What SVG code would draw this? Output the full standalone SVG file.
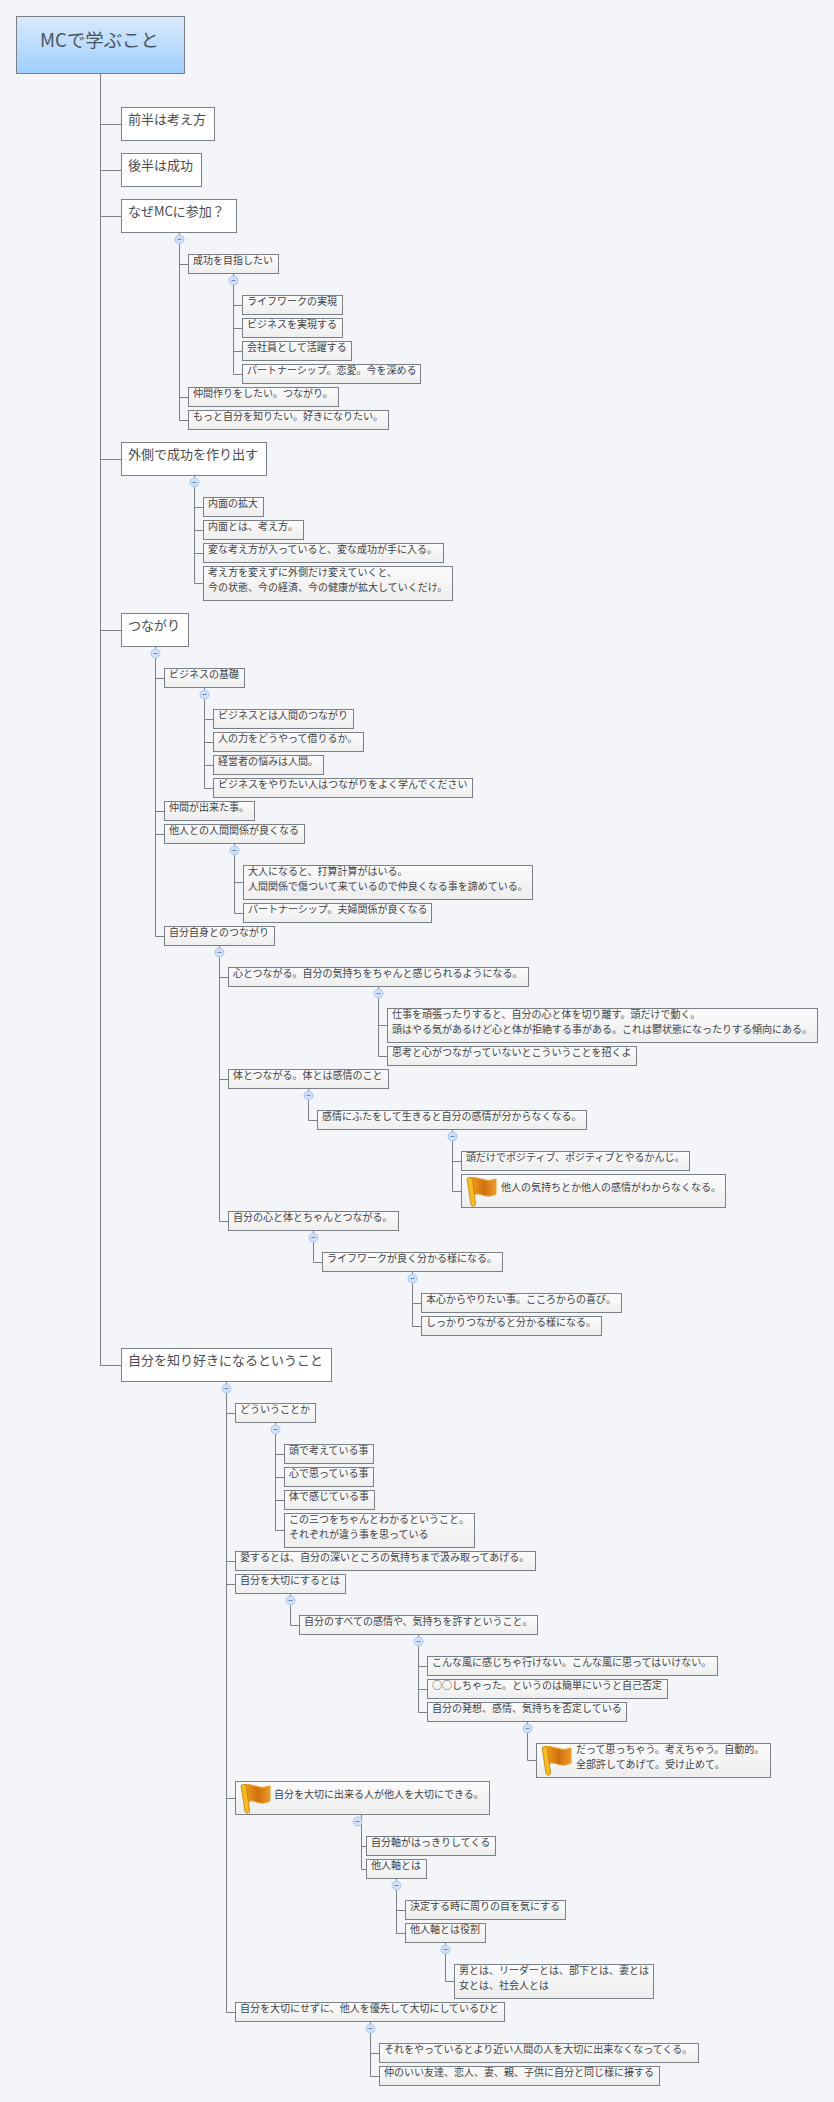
<svg xmlns="http://www.w3.org/2000/svg" width="834" height="2102" viewBox="0 0 834 2102">
<style>
text{font-family:"Noto Sans CJK JP","Noto Sans CJK SC",sans-serif;fill:#3e4248}
.t{font-size:10px}
.l1{font-size:13px;fill:#484c52}
.r{font-size:18.5px;fill:#4a5560}
.box{fill:url(#g2);stroke:#7b8087;stroke-width:1}
.b1{fill:#fff;stroke:#7b8087;stroke-width:1}
.c{fill:none;stroke:#7b8087;stroke-width:1}
.k{fill:#cfe0f8;stroke:#a9c5ec;stroke-width:1}
.m{stroke:#6f8db8;stroke-width:1}
</style>
<defs>
<linearGradient id="g1" x1="0" y1="0" x2="0" y2="1"><stop offset="0" stop-color="#d9eafb"/><stop offset="1" stop-color="#9fcefd"/></linearGradient>
<linearGradient id="g2" x1="0" y1="0" x2="0" y2="1"><stop offset="0" stop-color="#fbfbfb"/><stop offset="1" stop-color="#eeeeee"/></linearGradient>
<linearGradient id="g3" x1="0" y1="0" x2="1" y2="0"><stop offset="0" stop-color="#f7a51f"/><stop offset="0.55" stop-color="#cf6f0e"/><stop offset="1" stop-color="#ee9a2a"/></linearGradient>
<g id="flag">
<path d="M7,19 Q11,17 15,18.5 Q23,22 30,18 L30,3 Q23,6 15,3 Q9,0.5 3,2 Z" fill="url(#g3)" stroke="#e8a020" stroke-width="1"/>
<path d="M1,2.5 L5,28.5 Q6,31 8.5,30 Q10,29 9.5,27 L6,1.5 Q3,1 1,2.5 Z" fill="#f5bd22" stroke="#c07f10" stroke-width="0.8"/>
</g>
</defs>
<rect width="834" height="2102" fill="#f3f5f9"/>
<g id="connectors">
<path class="c" d="M100.5,73.5V1365.5H121.5M100.5,124.5H121.5M100.5,170.5H121.5M100.5,216.5H121.5M100.5,459.5H121.5M100.5,630.5H121.5"/>
<path class="c" d="M179.5,232.5V420.5H188.5M179.5,264.5H188.5M179.5,397.5H188.5"/>
<path class="c" d="M233.5,273.5V374.5H242.5M233.5,305.5H242.5M233.5,328.5H242.5M233.5,351.5H242.5"/>
<path class="c" d="M194.5,475.5V583.5H203.5M194.5,507.5H203.5M194.5,530.5H203.5M194.5,553.5H203.5"/>
<path class="c" d="M155.5,646.5V936.5H164.5M155.5,678.5H164.5M155.5,811.5H164.5M155.5,834.5H164.5"/>
<path class="c" d="M204.5,687.5V788.5H213.5M204.5,719.5H213.5M204.5,742.5H213.5M204.5,765.5H213.5"/>
<path class="c" d="M234.5,843.5V913.5H243.5M234.5,882.5H243.5"/>
<path class="c" d="M219.5,945.5V1221.5H228.5M219.5,977.5H228.5M219.5,1079.5H228.5"/>
<path class="c" d="M378.5,986.5V1056.5H387.5M378.5,1025.5H387.5"/>
<path class="c" d="M308.5,1088.5V1120.5H317.5"/>
<path class="c" d="M452.5,1129.5V1191.5H461.5M452.5,1161.5H461.5"/>
<path class="c" d="M313.5,1230.5V1262.5H322.5"/>
<path class="c" d="M412.5,1271.5V1326.5H421.5M412.5,1303.5H421.5"/>
<path class="c" d="M226.5,1381.5V2012.5H235.5M226.5,1413.5H235.5M226.5,1561.5H235.5M226.5,1584.5H235.5M226.5,1798.5H235.5"/>
<path class="c" d="M275.5,1422.5V1530.5H284.5M275.5,1454.5H284.5M275.5,1477.5H284.5M275.5,1500.5H284.5"/>
<path class="c" d="M290.5,1593.5V1625.5H299.5"/>
<path class="c" d="M418.5,1634.5V1712.5H427.5M418.5,1666.5H427.5M418.5,1689.5H427.5"/>
<path class="c" d="M527.5,1721.5V1760.5H536.5"/>
<path class="c" d="M361.5,1814.5V1869.5H366.5M361.5,1846.5H366.5"/>
<path class="c" d="M396.5,1878.5V1933.5H405.5M396.5,1910.5H405.5"/>
<path class="c" d="M445.5,1942.5V1981.5H454.5"/>
<path class="c" d="M370.5,2021.5V2076.5H379.5M370.5,2053.5H379.5"/>
</g>
<g id="toggles">
<circle class="k" cx="179.5" cy="239.5" r="4.5"/><path class="m" d="M177.5,239.5h4"/>
<circle class="k" cx="233.5" cy="280.5" r="4.5"/><path class="m" d="M231.5,280.5h4"/>
<circle class="k" cx="194.5" cy="482.5" r="4.5"/><path class="m" d="M192.5,482.5h4"/>
<circle class="k" cx="155.5" cy="653.5" r="4.5"/><path class="m" d="M153.5,653.5h4"/>
<circle class="k" cx="204.5" cy="694.5" r="4.5"/><path class="m" d="M202.5,694.5h4"/>
<circle class="k" cx="234.5" cy="850.5" r="4.5"/><path class="m" d="M232.5,850.5h4"/>
<circle class="k" cx="219.5" cy="952.5" r="4.5"/><path class="m" d="M217.5,952.5h4"/>
<circle class="k" cx="378.5" cy="993.5" r="4.5"/><path class="m" d="M376.5,993.5h4"/>
<circle class="k" cx="308.5" cy="1095.5" r="4.5"/><path class="m" d="M306.5,1095.5h4"/>
<circle class="k" cx="452.5" cy="1136.5" r="4.5"/><path class="m" d="M450.5,1136.5h4"/>
<circle class="k" cx="313.5" cy="1237.5" r="4.5"/><path class="m" d="M311.5,1237.5h4"/>
<circle class="k" cx="412.5" cy="1278.5" r="4.5"/><path class="m" d="M410.5,1278.5h4"/>
<circle class="k" cx="226.5" cy="1388.5" r="4.5"/><path class="m" d="M224.5,1388.5h4"/>
<circle class="k" cx="275.5" cy="1429.5" r="4.5"/><path class="m" d="M273.5,1429.5h4"/>
<circle class="k" cx="290.5" cy="1600.5" r="4.5"/><path class="m" d="M288.5,1600.5h4"/>
<circle class="k" cx="418.5" cy="1641.5" r="4.5"/><path class="m" d="M416.5,1641.5h4"/>
<circle class="k" cx="527.5" cy="1728.5" r="4.5"/><path class="m" d="M525.5,1728.5h4"/>
<circle class="k" cx="357.5" cy="1821.5" r="4.5"/><path class="m" d="M355.5,1821.5h4"/>
<circle class="k" cx="396.5" cy="1885.5" r="4.5"/><path class="m" d="M394.5,1885.5h4"/>
<circle class="k" cx="445.5" cy="1949.5" r="4.5"/><path class="m" d="M443.5,1949.5h4"/>
<circle class="k" cx="370.5" cy="2028.5" r="4.5"/><path class="m" d="M368.5,2028.5h4"/>
</g>
<g id="root"><rect x="16.5" y="16.5" width="168" height="57" fill="url(#g1)" stroke="#7b8087"/><text class="r" x="40" y="47" textLength="119">MCで学ぶこと</text></g>
<g id="n1"><rect class="b1" x="121.5" y="107.5" width="93" height="33"/><text class="l1" x="128" y="124">前半は考え方</text></g>
<g id="n2"><rect class="b1" x="121.5" y="153.5" width="80" height="33"/><text class="l1" x="128" y="170">後半は成功</text></g>
<g id="n3"><rect class="b1" x="121.5" y="199.5" width="115" height="33"/><text class="l1" x="128" y="216">なぜMCに参加？</text></g>
<g id="n4"><rect class="box" x="188.5" y="254.5" width="90" height="19"/><text class="t" x="193" y="264">成功を目指したい</text></g>
<g id="n5"><rect class="box" x="242.5" y="295.5" width="100" height="19"/><text class="t" x="247" y="305">ライフワークの実現</text></g>
<g id="n6"><rect class="box" x="242.5" y="318.5" width="100" height="19"/><text class="t" x="247" y="328">ビジネスを実現する</text></g>
<g id="n7"><rect class="box" x="242.5" y="341.5" width="109" height="19"/><text class="t" x="247" y="351">会社員として活躍する</text></g>
<g id="n8"><rect class="box" x="242.5" y="364.5" width="178" height="19"/><text class="t" x="247" y="374">パートナーシップ。恋愛。今を深める</text></g>
<g id="n9"><rect class="box" x="188.5" y="387.5" width="150" height="19"/><text class="t" x="193" y="397">仲間作りをしたい。つながり。</text></g>
<g id="n10"><rect class="box" x="188.5" y="410.5" width="200" height="19"/><text class="t" x="193" y="420">もっと自分を知りたい。好きになりたい。</text></g>
<g id="n11"><rect class="b1" x="121.5" y="442.5" width="145" height="33"/><text class="l1" x="128" y="459">外側で成功を作り出す</text></g>
<g id="n12"><rect class="box" x="203.5" y="497.5" width="60" height="19"/><text class="t" x="208" y="507">内面の拡大</text></g>
<g id="n13"><rect class="box" x="203.5" y="520.5" width="100" height="19"/><text class="t" x="208" y="530">内面とは、考え方。</text></g>
<g id="n14"><rect class="box" x="203.5" y="543.5" width="240" height="19"/><text class="t" x="208" y="553">変な考え方が入っていると、変な成功が手に入る。</text></g>
<g id="n15"><rect class="box" x="203.5" y="566.5" width="249" height="34"/><text class="t" x="208" y="576">考え方を変えずに外側だけ変えていくと、</text><text class="t" x="208" y="591">今の状態、今の経済、今の健康が拡大していくだけ。</text></g>
<g id="n16"><rect class="b1" x="121.5" y="613.5" width="67" height="33"/><text class="l1" x="128" y="630">つながり</text></g>
<g id="n17"><rect class="box" x="164.5" y="668.5" width="80" height="19"/><text class="t" x="169" y="678">ビジネスの基礎</text></g>
<g id="n18"><rect class="box" x="213.5" y="709.5" width="140" height="19"/><text class="t" x="218" y="719">ビジネスとは人間のつながり</text></g>
<g id="n19"><rect class="box" x="213.5" y="732.5" width="150" height="19"/><text class="t" x="218" y="742">人の力をどうやって借りるか。</text></g>
<g id="n20"><rect class="box" x="213.5" y="755.5" width="110" height="19"/><text class="t" x="218" y="765">経営者の悩みは人間。</text></g>
<g id="n21"><rect class="box" x="213.5" y="778.5" width="259" height="19"/><text class="t" x="218" y="788">ビジネスをやりたい人はつながりをよく学んでください</text></g>
<g id="n22"><rect class="box" x="164.5" y="801.5" width="90" height="19"/><text class="t" x="169" y="811">仲間が出来た事。</text></g>
<g id="n23"><rect class="box" x="164.5" y="824.5" width="140" height="19"/><text class="t" x="169" y="834">他人との人間関係が良くなる</text></g>
<g id="n24"><rect class="box" x="243.5" y="865.5" width="289" height="34"/><text class="t" x="248" y="875">大人になると、打算計算がはいる。</text><text class="t" x="248" y="890">人間関係で傷ついて来ているので仲良くなる事を諦めている。</text></g>
<g id="n25"><rect class="box" x="243.5" y="903.5" width="188" height="19"/><text class="t" x="248" y="913">パートナーシップ。夫婦関係が良くなる</text></g>
<g id="n26"><rect class="box" x="164.5" y="926.5" width="110" height="19"/><text class="t" x="169" y="936">自分自身とのつながり</text></g>
<g id="n27"><rect class="box" x="228.5" y="967.5" width="300" height="19"/><text class="t" x="233" y="977">心とつながる。自分の気持ちをちゃんと感じられるようになる。</text></g>
<g id="n28"><rect class="box" x="387.5" y="1008.5" width="430" height="34"/><text class="t" x="392" y="1018">仕事を頑張ったりすると、自分の心と体を切り離す。頭だけで動く。</text><text class="t" x="392" y="1033">頭はやる気があるけど心と体が拒絶する事がある。これは鬱状態になったりする傾向にある。</text></g>
<g id="n29"><rect class="box" x="387.5" y="1046.5" width="249" height="19"/><text class="t" x="392" y="1056">思考と心がつながっていないとこういうことを招くよ</text></g>
<g id="n30"><rect class="box" x="228.5" y="1069.5" width="160" height="19"/><text class="t" x="233" y="1079">体とつながる。体とは感情のこと</text></g>
<g id="n31"><rect class="box" x="317.5" y="1110.5" width="269" height="19"/><text class="t" x="322" y="1120">感情にふたをして生きると自分の感情が分からなくなる。</text></g>
<g id="n32"><rect class="box" x="461.5" y="1151.5" width="228" height="19"/><text class="t" x="466" y="1161">頭だけでポジティブ、ポジティブとやるかんじ。</text></g>
<g id="n33"><rect class="box" x="461.5" y="1174.5" width="264" height="33"/><use href="#flag" x="466" y="1176"/><text class="t" x="501" y="1191">他人の気持ちとか他人の感情がわからなくなる。</text></g>
<g id="n34"><rect class="box" x="228.5" y="1211.5" width="170" height="19"/><text class="t" x="233" y="1221">自分の心と体とちゃんとつながる。</text></g>
<g id="n35"><rect class="box" x="322.5" y="1252.5" width="180" height="19"/><text class="t" x="327" y="1262">ライフワークが良く分かる様になる。</text></g>
<g id="n36"><rect class="box" x="421.5" y="1293.5" width="200" height="19"/><text class="t" x="426" y="1303">本心からやりたい事。こころからの喜び。</text></g>
<g id="n37"><rect class="box" x="421.5" y="1316.5" width="180" height="19"/><text class="t" x="426" y="1326">しっかりつながると分かる様になる。</text></g>
<g id="n38"><rect class="b1" x="121.5" y="1348.5" width="210" height="33"/><text class="l1" x="128" y="1365">自分を知り好きになるということ</text></g>
<g id="n39"><rect class="box" x="235.5" y="1403.5" width="80" height="19"/><text class="t" x="240" y="1413">どういうことか</text></g>
<g id="n40"><rect class="box" x="284.5" y="1444.5" width="89" height="19"/><text class="t" x="289" y="1454">頭で考えている事</text></g>
<g id="n41"><rect class="box" x="284.5" y="1467.5" width="89" height="19"/><text class="t" x="289" y="1477">心で思っている事</text></g>
<g id="n42"><rect class="box" x="284.5" y="1490.5" width="90" height="19"/><text class="t" x="289" y="1500">体で感じている事</text></g>
<g id="n43"><rect class="box" x="284.5" y="1513.5" width="190" height="34"/><text class="t" x="289" y="1523">この三つをちゃんとわかるということ。</text><text class="t" x="289" y="1538">それぞれが違う事を思っている</text></g>
<g id="n44"><rect class="box" x="235.5" y="1551.5" width="300" height="19"/><text class="t" x="240" y="1561">愛するとは、自分の深いところの気持ちまで汲み取ってあげる。</text></g>
<g id="n45"><rect class="box" x="235.5" y="1574.5" width="110" height="19"/><text class="t" x="240" y="1584">自分を大切にするとは</text></g>
<g id="n46"><rect class="box" x="299.5" y="1615.5" width="238" height="19"/><text class="t" x="304" y="1625">自分のすべての感情や、気持ちを許すということ。</text></g>
<g id="n47"><rect class="box" x="427.5" y="1656.5" width="290" height="19"/><text class="t" x="432" y="1666">こんな風に感じちゃ行けない。こんな風に思ってはいけない。</text></g>
<g id="n48"><rect class="box" x="427.5" y="1679.5" width="240" height="19"/><text class="t" x="432" y="1689">○○しちゃった。というのは簡単にいうと自己否定</text></g>
<g id="n49"><rect class="box" x="427.5" y="1702.5" width="199" height="19"/><text class="t" x="432" y="1712">自分の発想、感情、気持ちを否定している</text></g>
<g id="n50"><rect class="box" x="536.5" y="1743.5" width="234" height="34"/><use href="#flag" x="541" y="1745"/><text class="t" x="576" y="1753">だって思っちゃう。考えちゃう。自動的。</text><text class="t" x="576" y="1768">全部許してあげて。受け止めて。</text></g>
<g id="n51"><rect class="box" x="235.5" y="1781.5" width="254" height="33"/><use href="#flag" x="240" y="1783"/><text class="t" x="274" y="1798">自分を大切に出来る人が他人を大切にできる。</text></g>
<g id="n52"><rect class="box" x="366.5" y="1836.5" width="129" height="19"/><text class="t" x="371" y="1846">自分軸がはっきりしてくる</text></g>
<g id="n53"><rect class="box" x="366.5" y="1859.5" width="60" height="19"/><text class="t" x="371" y="1869">他人軸とは</text></g>
<g id="n54"><rect class="box" x="405.5" y="1900.5" width="160" height="19"/><text class="t" x="410" y="1910">決定する時に周りの目を気にする</text></g>
<g id="n55"><rect class="box" x="405.5" y="1923.5" width="80" height="19"/><text class="t" x="410" y="1933">他人軸とは役割</text></g>
<g id="n56"><rect class="box" x="454.5" y="1964.5" width="199" height="34"/><text class="t" x="459" y="1974">男とは、リーダーとは、部下とは、妻とは</text><text class="t" x="459" y="1989">女とは、社会人とは</text></g>
<g id="n57"><rect class="box" x="235.5" y="2002.5" width="269" height="19"/><text class="t" x="240" y="2012">自分を大切にせずに、他人を優先して大切にしているひと</text></g>
<g id="n58"><rect class="box" x="379.5" y="2043.5" width="319" height="19"/><text class="t" x="384" y="2053">それをやっているとより近い人間の人を大切に出来なくなってくる。</text></g>
<g id="n59"><rect class="box" x="379.5" y="2066.5" width="280" height="19"/><text class="t" x="384" y="2076">仲のいい友達、恋人、妻、親、子供に自分と同じ様に接する</text></g>
</svg>
